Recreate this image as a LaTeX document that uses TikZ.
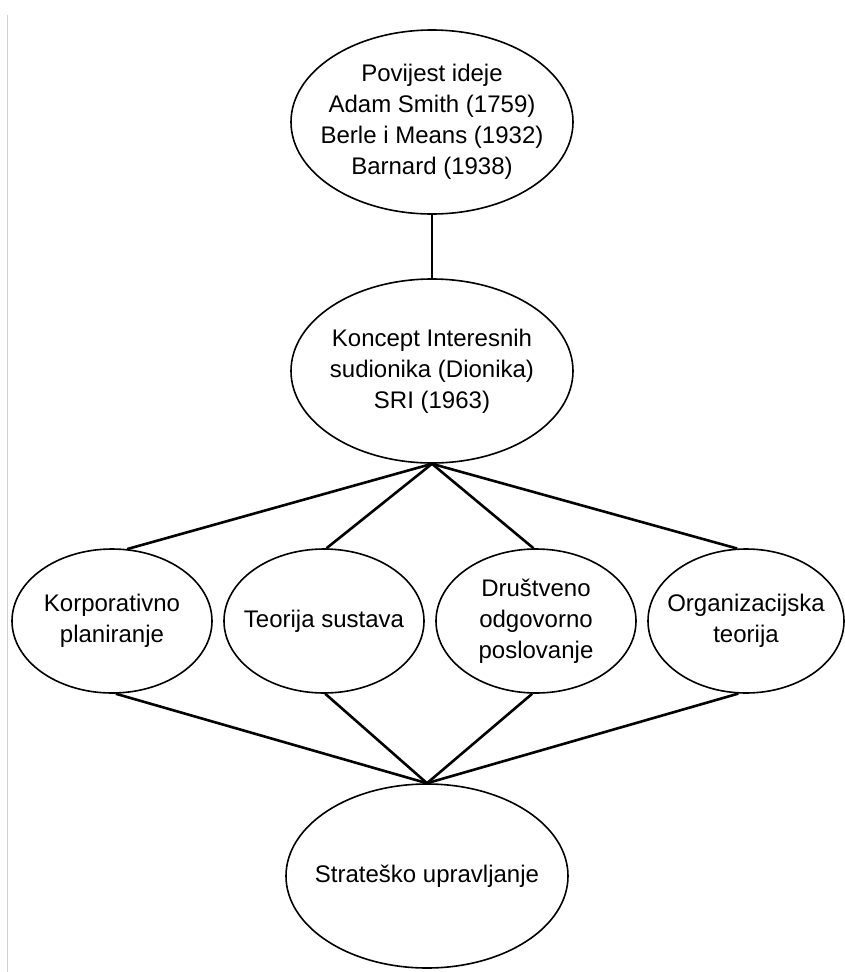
\documentclass[tikz,border=0pt]{standalone}
\usepackage{fontspec}
\setmainfont{Liberation Sans}
\usepackage{tikz}
\usetikzlibrary{shapes.geometric}
\usetikzlibrary{arrows}
\tikzset {
  % oval with the text inside
  main/.style = {draw, ellipse, line width=1.6pt, inner sep=-30pt, align=center,
    font=\fontsize{24}{31}\selectfont},
  % the three big ovals and the four small ones
  bigoval/.style = {minimum width=282pt, minimum height=184pt},
  smalloval/.style = {minimum width=200pt, minimum height=144pt},
  % lines between ovals
  link/.style = {line width=2.6pt},
}

\begin{document}
\begin{tikzpicture}[x=1pt, y=-1pt]
      \useasboundingbox (0, 0) rectangle (845, 972);
      % page edge of the scan
      \draw [gray!35, line width=1pt] (7, 15) -- (7, 972);

      \node[main, bigoval] (hist) at (432, 122) {Povijest ideje\\Adam Smith (1759)\\Berle i Means (1932)\\Barnard (1938)};
      \node[main, bigoval] (koncept) at (432, 371) {Koncept Interesnih\\sudionika (Dionika)\\SRI (1963)};

      \node[main, smalloval] (korp) at (112, 621) {Korporativno\\planiranje};
      \node[main, smalloval] (teor) at (324, 621) {Teorija sustava};
      \node[main, smalloval] (drus) at (536, 621) {Društveno\\odgovorno\\poslovanje};
      \node[main, smalloval, minimum width=196pt] (org) at (746, 621) {Organizacijska\\teorija};

      \node[main, bigoval] (strat) at (427, 876) {Strateško upravljanje};

      \draw [link] (hist) -- (koncept);

      \draw [link] (koncept.south) -- (korp.78);
      \draw [link] (koncept.south) -- (teor.88);
      \draw [link] (koncept.south) -- (drus.92);
      \draw [link] (koncept.south) -- (org.97);

      \draw [link] (korp.-87) -- (strat.north);
      \draw [link] (teor.-89) -- (strat.north);
      \draw [link] (drus.-93) -- (strat.north);
      \draw [link] (org.-96) -- (strat.north);
    \end{tikzpicture}
\end{document}
